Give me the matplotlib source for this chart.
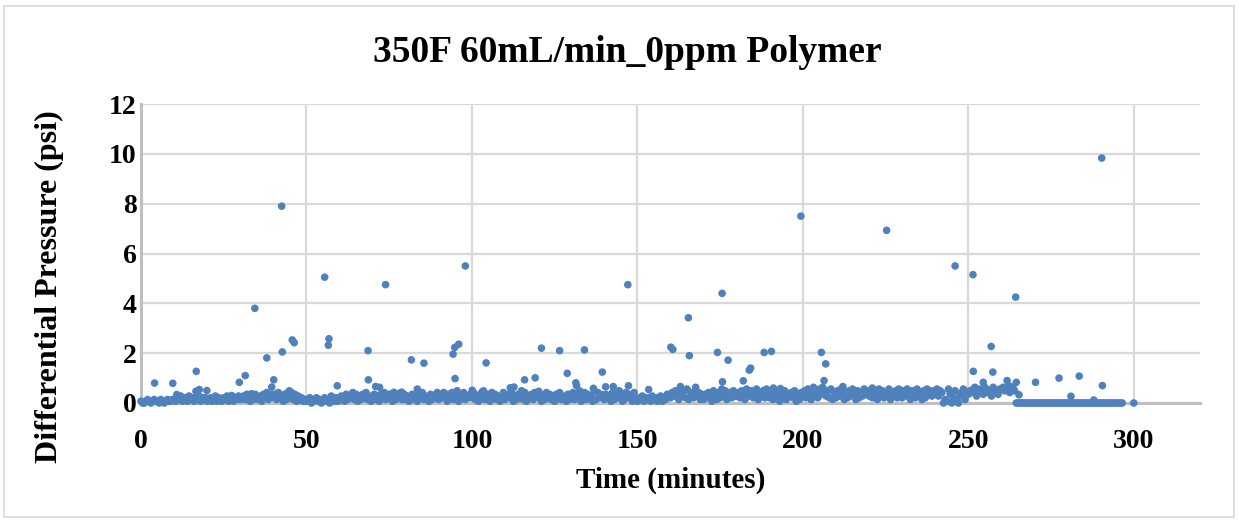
import numpy as np
import matplotlib
matplotlib.use("Agg")
import matplotlib.pyplot as plt
from matplotlib.patches import Rectangle

# Baseline readings, one character per 0.5-minute sample (digit * 0.07 psi),
# written in 10-minute blocks starting at t = 0.
baseline_blocks = [
    "10012101211021012112",  # 0-10
    "21324123142313241323",  # 10-20
    "12312413213241231324",  # 20-30
    "23425314253241536245",  # 30-40
    "35264315243625142312",  # 40-50
    "12301231201321042131",  # 50-60
    "24315243625142536241",  # 60-70
    "35241536245314253625",  # 70-80
    "24135241536243152436",  # 80-90
    "25364153624715362435",  # 90-100
    "36241537254163524136",  # 100-110
    "24536142537261435264",  # 110-120
    "35142635241536243152",  # 120-130
    "46253714625341726354",  # 130-140
    "25341625374126354162",  # 140-150
    "13241323142312413254",  # 150-160
    "36475264738265374625",  # 160-170
    "25364175263847265374",  # 170-180
    "46375286473582647385",  # 180-190
    "36274516372546371526",  # 190-200
    "47385264738596473826",  # 200-210
    "37485263748527364857",  # 210-220
    "46375284736582647385",  # 220-230
    "37486275384627385746",  # 230-240
    "58476021850371046825",  # 240-250
    "57689468759867497658",  # 250-260
    "89798689700000000000",  # 260-270
    "00000000000000000000",  # 270-280
    "00000000000000000000",  # 280-290
    "00000000000000",        # 290-297
]
baseline_step_min = 0.5
baseline_unit_psi = 0.07

# Individual readings standing out of the baseline band (minutes, psi)
spike_time = [
    42.5, 55.5, 73.9, 98.0, 147.1, 175.6, 199.4, 225.3, 246.0, 251.4, 264.3, 290.3,
    34.4, 45.7, 46.3, 42.7, 38.0, 56.8, 56.6, 68.6, 81.7, 85.5, 94.3, 94.8, 96.0,
    94.9, 104.3, 16.7, 4.1, 9.6, 29.7, 31.5, 40.1, 39.5, 59.3, 68.7, 70.9, 72.1,
    83.5, 17.6, 16.6, 19.9, 10.8, 44.8, 43.7, 33.4, 27.4, 76.4, 78.8, 100.1, 103.1,
    165.4, 121.0, 126.5, 134.0, 160.1, 160.7, 165.7, 174.2, 177.4, 188.3, 190.5,
    205.6, 206.9, 115.9, 119.1, 128.8, 131.4, 131.6, 139.4, 136.7, 140.4, 142.7,
    147.3, 153.4, 163.0, 167.6, 175.7, 182.0, 183.8, 184.2, 188.3, 191.1, 193.2,
    203.2, 206.4, 111.6, 112.7, 120.2,
    256.9, 251.5, 257.4, 254.5, 261.7, 264.5, 270.3, 277.4, 283.5, 290.5, 281.0,
    287.9, 300.0, 221.0, 228.8, 239.9, 245.6, 212.1, 262.7, 265.3,
]
spike_psi = [
    7.90, 5.05, 4.75, 5.50, 4.75, 4.40, 7.50, 6.93, 5.50, 5.15, 4.25, 9.83,
    3.80, 2.53, 2.42, 2.05, 1.81, 2.58, 2.32, 2.10, 1.73, 1.60, 1.96, 2.23, 2.36,
    0.98, 1.61, 1.27, 0.80, 0.79, 0.83, 1.10, 0.93, 0.64, 0.69, 0.93, 0.66, 0.63,
    0.56, 0.54, 0.47, 0.50, 0.34, 0.49, 0.36, 0.37, 0.30, 0.43, 0.43, 0.51, 0.45,
    3.42, 2.20, 2.10, 2.13, 2.24, 2.15, 1.90, 2.03, 1.72, 2.03, 2.07,
    2.03, 1.57, 0.93, 1.01, 1.19, 0.81, 0.70, 1.24, 0.59, 0.65, 0.66,
    0.69, 0.54, 0.66, 0.63, 0.85, 0.89, 1.32, 1.40, 0.50, 0.60, 0.58,
    0.63, 0.90, 0.61, 0.64, 0.47,
    2.27, 1.27, 1.24, 0.83, 0.90, 0.83, 0.83, 1.00, 1.08, 0.70, 0.27,
    0.12, 0.00, 0.60, 0.50, 0.50, 0.45, 0.66, 0.67, 0.33,
]

title_text = "350F 60mL/min_0ppm Polymer"
x_label = "Time (minutes)"
y_label = "Differential Pressure (psi)"
x_ticks = [0, 50, 100, 150, 200, 250, 300]
y_ticks = [0, 2, 4, 6, 8, 10, 12]

digits = "".join(baseline_blocks)
base_psi = np.array([int(c) for c in digits]) * baseline_unit_psi
base_time = np.arange(len(digits)) * baseline_step_min

time = np.concatenate([base_time, np.array(spike_time)])
psi = np.concatenate([base_psi, np.array(spike_psi)])

plt.rcParams["font.family"] = ["Liberation Serif", "DejaVu Serif"]

fig = plt.figure(figsize=(12.39, 5.22), dpi=100)
ax = fig.add_axes([141 / 1239, 1 - 403 / 522, (1200 - 141) / 1239, (403 - 104) / 522])

ax.scatter(time, psi, s=30, color="#4f81bd", edgecolors="none", zorder=3, clip_on=False)

ax.set_xlim(0, 320)
ax.set_ylim(0, 12)
ax.set_xticks(x_ticks)
ax.set_yticks(y_ticks)
ax.grid(True, color="#d9d9d9", linewidth=1.6)
ax.set_axisbelow(True)
for side in ("top", "right"):
    ax.spines[side].set_visible(False)
ax.spines["left"].set_color("#bfbfbf")
ax.spines["left"].set_linewidth(2.2)
ax.spines["bottom"].set_color("#bfbfbf")
ax.spines["bottom"].set_linewidth(2.2)
ax.tick_params(length=0, labelsize=20)
ax.tick_params(axis="x", pad=19)
ax.tick_params(axis="y", pad=3)
for lab in ax.get_xticklabels() + ax.get_yticklabels():
    lab.set_fontweight("bold")

ax.set_xlabel(x_label, fontsize=21, fontweight="bold", va="center")
ax.xaxis.set_label_coords(0.5, (403 - 480) / 299)
ax.set_ylabel(y_label, fontsize=23, fontweight="bold", va="center")
ax.yaxis.set_label_coords((49 - 141) / 1059, (403 - 287) / 299)

fig.text(627 / 1239, 1 - 52 / 522, title_text, ha="center", va="center",
         fontsize=27, fontweight="bold")

fig.patches.append(Rectangle((4 / 1239, 5 / 522), 1230 / 1239, 511 / 522,
                             transform=fig.transFigure, fill=False,
                             edgecolor="#d9d9d9", linewidth=1.2))

fig.savefig("out.png", dpi=100, facecolor="white")
